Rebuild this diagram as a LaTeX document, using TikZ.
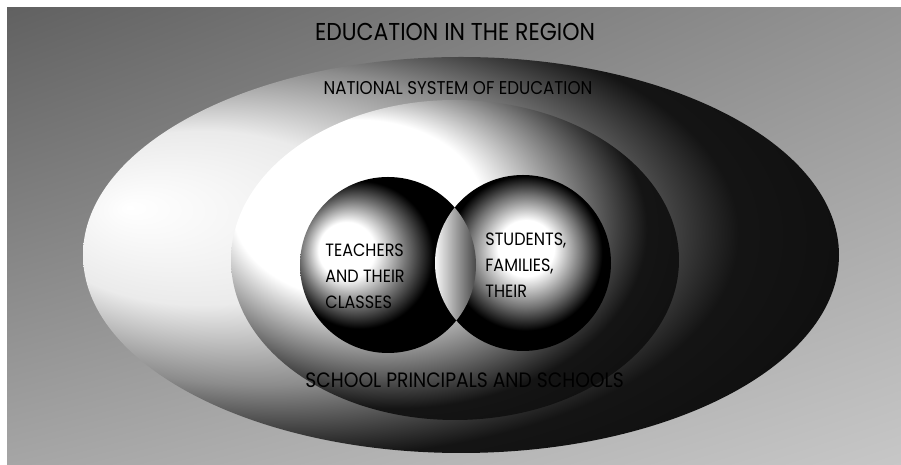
\documentclass[tikz,border=0pt]{standalone}
\usepackage{fontspec}
\newfontfamily\capsfont[FakeStretch=0.9]{Poppins}
\usetikzlibrary{shadings}

% shadings for the rings and the two balls
\pgfdeclareradialshading{nationalshade}{\pgfpoint{-22bp}{6bp}}{color(0bp)=(white); color(11bp)=(black!8); color(20bp)=(black!45); color(28bp)=(black!92); color(50bp)=(black)}
\pgfdeclareradialshading{principalshade}{\pgfpoint{-15bp}{11bp}}{color(0bp)=(white); color(14bp)=(white); color(22bp)=(black!52); color(28bp)=(black!92); color(50bp)=(black)}
\pgfdeclareradialshading{teachershade}{\pgfpoint{-14bp}{5bp}}{color(0bp)=(white); color(8bp)=(white); color(15bp)=(black!55); color(21bp)=(black); color(50bp)=(black)}
\pgfdeclareradialshading{studentshade}{\pgfpoint{1bp}{5bp}}{color(0bp)=(white); color(8bp)=(white); color(16bp)=(black!55); color(22bp)=(black); color(50bp)=(black)}

\tikzset{
    ringtext/.style={font=\capsfont\fontsize{9.25}{13}\selectfont, inner sep=0pt},
    balltext/.style={font=\capsfont\fontsize{8.9}{13}\selectfont, inner sep=0pt, align=left, anchor=west},
}

\begin{document}
\begin{tikzpicture}[x=0.5pt, y=0.5pt]
    \useasboundingbox (0,0) rectangle (901,465);
    % backdrop
    \shade[upper left=black!62, upper right=black!42, lower left=black!35, lower right=black!22]
        (7,0) rectangle (901,457);

    % centres
    \coordinate (nat) at (461,210);
    \coordinate (prin) at (455,205);
    \coordinate (teach) at (388,200);
    \coordinate (stud) at (523,202);

    % rings
    \shade[shading=nationalshade] (nat) ellipse [x radius=189pt, y radius=99pt];
    \shade[shading=principalshade] (prin) ellipse [x radius=112pt, y radius=80pt];

    % balls
    \shade[shading=teachershade] (teach) circle [radius=44pt];
    \shade[shading=studentshade] (stud) circle [radius=44pt];
    \begin{scope}
        \clip (teach) circle [radius=44pt];
        \clip (stud) circle [radius=44pt];
        \shade[left color=white, right color=black!75] (433,20) rectangle (478,380);
    \end{scope}

    % Texts
    \node[ringtext, font=\capsfont\fontsize{12.2}{14}\selectfont] (title) at (455,433) {EDUCATION IN THE REGION};
    \node[ringtext] (national) at (458,377) {NATIONAL SYSTEM OF EDUCATION};
    \node[ringtext, anchor=west, font=\capsfont\fontsize{10.4}{13}\selectfont] (principals) at (305,85) {SCHOOL PRINCIPALS AND SCHOOLS};
    \node[balltext] (teachers) at (325,189) {TEACHERS\\AND THEIR\\CLASSES};
    \node[balltext] (students) at (485,200) {STUDENTS,\\FAMILIES,\\THEIR};
\end{tikzpicture}
\end{document}
